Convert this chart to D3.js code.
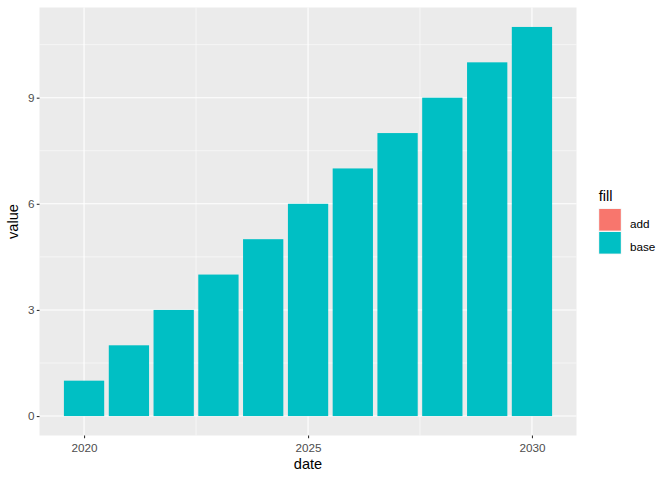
<!DOCTYPE html>
<html><head><meta charset="utf-8">
<script src="https://cdn.jsdelivr.net/npm/d3@7"></script>
<style>body{margin:0;background:#fff}svg{display:block}text{font-family:"Liberation Sans",Arial,sans-serif}</style>
</head><body><svg id="c" width="672" height="480"></svg>
<script>
const years = [2020,2021,2022,2023,2024,2025,2026,2027,2028,2029,2030];
const baseValues = [1,2,3,4,5,6,7,8,9,10,11];
const addValues = [0,0,0,0,0,0,0,0,0,0,0];
const seriesNames = ["add","base"];
const seriesColors = ["#F8766D","#00BFC4"];
const yTicks = [0,3,6,9];
const yMinor = [1.5,4.5,7.5,10.5];
const xTickYears = [2020,2025,2030];
const xMinorYears = [2022.5,2027.5];

const svg = d3.select("#c");
const P = {l:39.5, r:576.5, t:7.5, b:435.5};
const DAY = 86400000;
const dates = years.map(y => new Date(Date.UTC(y,0,1)));
const halfW = 0.45*365*DAY;
const dmin = +dates[0]-halfW, dmax = +dates[dates.length-1]+halfW;
const ex = (dmax-dmin)*0.05;
const x = d3.scaleUtc().domain([new Date(dmin-ex), new Date(dmax+ex)]).range([P.l,P.r]);
const totals = baseValues.map((v,i)=>v+addValues[i]);
const ymax = d3.max(totals), ey = ymax*0.05;
const y = d3.scaleLinear().domain([-ey, ymax+ey]).range([P.b,P.t]);
const yearDate = yr => { const f=Math.floor(yr); const a=Date.UTC(f,0,1), b=Date.UTC(f+1,0,1); return new Date(a+(yr-f)*(b-a)); };

svg.append("rect").attr("x",P.l).attr("y",P.t).attr("width",P.r-P.l).attr("height",P.b-P.t).attr("fill","#EBEBEB");
const g = svg.append("g");
yMinor.forEach(v=>g.append("line").attr("x1",P.l).attr("x2",P.r).attr("y1",y(v)).attr("y2",y(v)).attr("stroke","#fff").attr("stroke-width",0.55));
xMinorYears.forEach(v=>g.append("line").attr("y1",P.t).attr("y2",P.b).attr("x1",x(yearDate(v))).attr("x2",x(yearDate(v))).attr("stroke","#fff").attr("stroke-width",0.55));
yTicks.forEach(v=>g.append("line").attr("x1",P.l).attr("x2",P.r).attr("y1",y(v)).attr("y2",y(v)).attr("stroke","#fff").attr("stroke-width",1.1));
xTickYears.forEach(v=>g.append("line").attr("y1",P.t).attr("y2",P.b).attr("x1",x(yearDate(v))).attr("x2",x(yearDate(v))).attr("stroke","#fff").attr("stroke-width",1.1));

// stacked bars
const stackData = dates.map((d,i)=>({date:d, add:addValues[i], base:baseValues[i]}));
const stack = d3.stack().keys(["base","add"])(stackData);
stack.forEach(layer=>{
  const col = seriesColors[seriesNames.indexOf(layer.key)];
  svg.append("g").selectAll("rect").data(layer.filter(s=>s[1]-s[0]>0)).join("rect")
    .attr("x",d=>x(new Date(+d.data.date-halfW)))
    .attr("width",d=>x(new Date(+d.data.date+halfW))-x(new Date(+d.data.date-halfW)))
    .attr("y",d=>y(d[1])).attr("height",d=>y(d[0])-y(d[1]))
    .attr("fill",col);
});

// axes
const yAxis = svg.append("g").attr("transform",`translate(${P.l},0)`)
  .call(d3.axisLeft(y).tickValues(yTicks).tickSize(2.75).tickPadding(2.2).tickFormat(d3.format("d")));
const xAxis = svg.append("g").attr("transform",`translate(0,${P.b})`)
  .call(d3.axisBottom(x).tickValues(xTickYears.map(yearDate)).tickSize(2.75).tickPadding(2.2).tickFormat(d3.utcFormat("%Y")));
[yAxis,xAxis].forEach(a=>{
  a.select(".domain").remove();
  a.selectAll(".tick line").attr("stroke","#333").attr("stroke-width",1.1);
  a.selectAll(".tick text").attr("fill","#4D4D4D").style("font-size","11.7px");
});
xAxis.selectAll(".tick text").attr("dy","0.95em");

svg.append("text").attr("x",(P.l+P.r)/2).attr("y",469).attr("text-anchor","middle").attr("fill","#000").style("font-size","14.6px").text("date");
svg.append("text").attr("transform",`translate(18,${(P.t+P.b)/2}) rotate(-90)`).attr("text-anchor","middle").attr("fill","#000").style("font-size","14.6px").text("value");

// legend
const lg = svg.append("g");
lg.append("text").attr("x",598.7).attr("y",200.7).attr("fill","#000").style("font-size","14.6px").text("fill");
const KS = 23;
seriesNames.forEach((n,i)=>{
  const ky = 208.3 + i*KS;
  lg.append("rect").attr("x",598.5).attr("y",ky).attr("width",KS).attr("height",KS).attr("fill","#F2F2F2");
  lg.append("rect").attr("x",599.2).attr("y",ky+0.7).attr("width",KS-1.4).attr("height",KS-1.4).attr("fill",seriesColors[i]);
  lg.append("text").attr("x",630).attr("y",ky+KS/2+7.9).attr("fill","#000").style("font-size","11.7px").text(n);
});
</script></body></html>
